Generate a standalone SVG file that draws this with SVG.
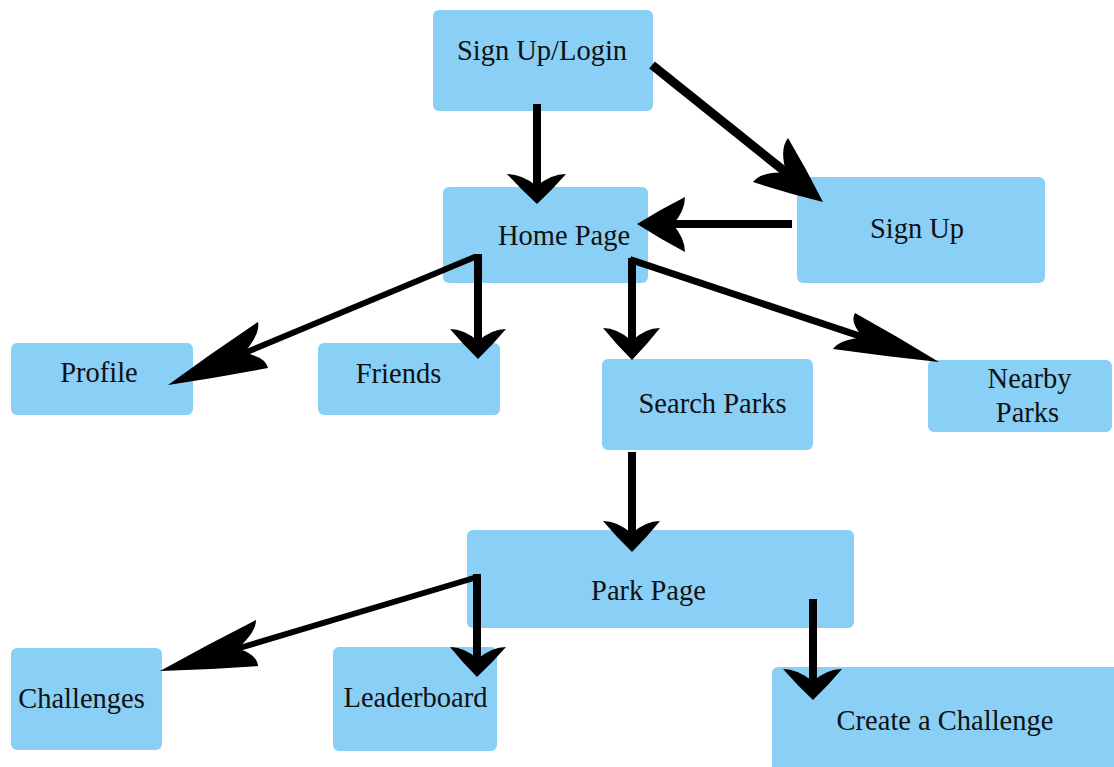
<svg xmlns="http://www.w3.org/2000/svg" width="1114" height="767" viewBox="0 0 1114 767">
<style>
.box{fill:#89CFF6;}
.t{font-family:"Liberation Serif","Times New Roman",serif;font-size:28.5px;fill:#111;text-anchor:middle;}
.ln{stroke:#000;fill:none;stroke-linecap:butt;}
.hd{fill:#000;stroke:none;}
</style>
<rect width="1114" height="767" fill="#fff"/>
<g id="node-login"><rect class="box" x="433" y="10" width="220" height="101" rx="6"/><text class="t" x="542" y="60">Sign Up/Login</text></g>
<g id="node-home"><rect class="box" x="443" y="187" width="205" height="96" rx="6"/><text class="t" x="564" y="245">Home Page</text></g>
<g id="node-signup"><rect class="box" x="797" y="177" width="248" height="106" rx="6"/><text class="t" x="917" y="238">Sign Up</text></g>
<g id="node-profile"><rect class="box" x="11" y="343" width="182" height="72" rx="6"/><text class="t" x="99" y="382">Profile</text></g>
<g id="node-friends"><rect class="box" x="318" y="343" width="182" height="72" rx="6"/><text class="t" x="398.5" y="383">Friends</text></g>
<g id="node-search"><rect class="box" x="602" y="359" width="211" height="91" rx="6"/><text class="t" x="712.5" y="413">Search Parks</text></g>
<g id="node-nearby"><rect class="box" x="928" y="360" width="184" height="72" rx="6"/><text class="t" x="1029.5" y="388">Nearby</text><text class="t" x="1027.5" y="422">Parks</text></g>
<g id="node-park"><rect class="box" x="467" y="530" width="387" height="98" rx="6"/><text class="t" x="648.5" y="600">Park Page</text></g>
<g id="node-challenges"><rect class="box" x="11" y="648" width="151" height="102" rx="6"/><text class="t" x="81.5" y="708">Challenges</text></g>
<g id="node-leaderboard"><rect class="box" x="333" y="647" width="164" height="104" rx="6"/><text class="t" x="415.5" y="707">Leaderboard</text></g>
<g id="node-create"><rect class="box" x="772" y="667" width="350" height="110" rx="6"/><text class="t" x="945" y="730">Create a Challenge</text></g>
<g id="connectors">
<!-- login -> home -->
<line class="ln" x1="537" y1="104" x2="537" y2="189" stroke-width="8"/>
<path class="hd" d="M537,204 Q520.5,189 507,174 Q521.75,174 536.7,186 Q551.25,174 566,174 Q553,189 537,204 Z"/>
<!-- login -> signup -->
<line class="ln" x1="652" y1="65" x2="788" y2="174" stroke-width="9"/>
<path class="hd" d="M823,202 Q806.4,168.9 788,138 Q779.25,149 786.25,172.6 Q761.75,171 753,182 Q787.1,193.1 823,202 Z"/>
<!-- signup -> home -->
<line class="ln" x1="792" y1="224" x2="671" y2="224" stroke-width="8"/>
<path class="hd" d="M637,224 Q661,209.1 685,197 Q685,210.75 673,224.4 Q685,238.25 685,252 Q661,239.4 637,224 Z"/>
<!-- home -> profile -->
<line class="ln" x1="476" y1="256.5" x2="242" y2="354" stroke-width="6"/>
<path class="hd" d="M168,385 Q212.75,352.35 258,322 Q260.5,333.5 244,353 Q265.5,356.5 268,368 Q218.25,377.65 168,385 Z"/>
<!-- home -> friends -->
<line class="ln" x1="478" y1="254" x2="478" y2="343" stroke-width="8"/>
<path class="hd" d="M478,359 Q462.6,344 450,329 Q464,329 478,341 Q492,329 506,329 Q493.4,344 478,359 Z"/>
<!-- home -> search -->
<line class="ln" x1="632" y1="258" x2="632" y2="343" stroke-width="8"/>
<path class="hd" d="M632,360 Q616,344 603,328 Q617.25,328 631.7,340.8 Q645.75,328 660,328 Q647.4,344 632,360 Z"/>
<!-- home -> nearby -->
<line class="ln" x1="630" y1="259.5" x2="865" y2="337.8" stroke-width="7"/>
<path class="hd" d="M939,362 Q897.55,336.6 855,313 Q849.5,322 863,337.2 Q838.5,340 833,349 Q885.45,356.4 939,362 Z"/>
<!-- search -> park -->
<line class="ln" x1="632" y1="452" x2="632" y2="536" stroke-width="8"/>
<path class="hd" d="M632,552 Q616,536.5 603,521 Q617.25,521 631.7,533.4 Q645.75,521 660,521 Q647.4,536.5 632,552 Z"/>
<!-- park -> challenges -->
<line class="ln" x1="479" y1="576.5" x2="236" y2="649" stroke-width="6"/>
<path class="hd" d="M160,671 Q207.95,644.35 256,620 Q256.5,631.5 237.6,648.6 Q257.5,654.5 258,666 Q209.05,669.65 160,671 Z"/>
<!-- park -> leaderboard -->
<line class="ln" x1="477" y1="574" x2="477" y2="661" stroke-width="8"/>
<path class="hd" d="M477,677 Q462.1,662 450,647 Q464,647 477.6,659 Q492,647 506,647 Q492.9,662 477,677 Z"/>
<!-- park -> create -->
<line class="ln" x1="813" y1="599" x2="813" y2="684" stroke-width="8"/>
<path class="hd" d="M813,700 Q796.5,684.5 783,669 Q797.75,669 812.7,681.4 Q827.25,669 842,669 Q829,684.5 813,700 Z"/>
</g>
</svg>
